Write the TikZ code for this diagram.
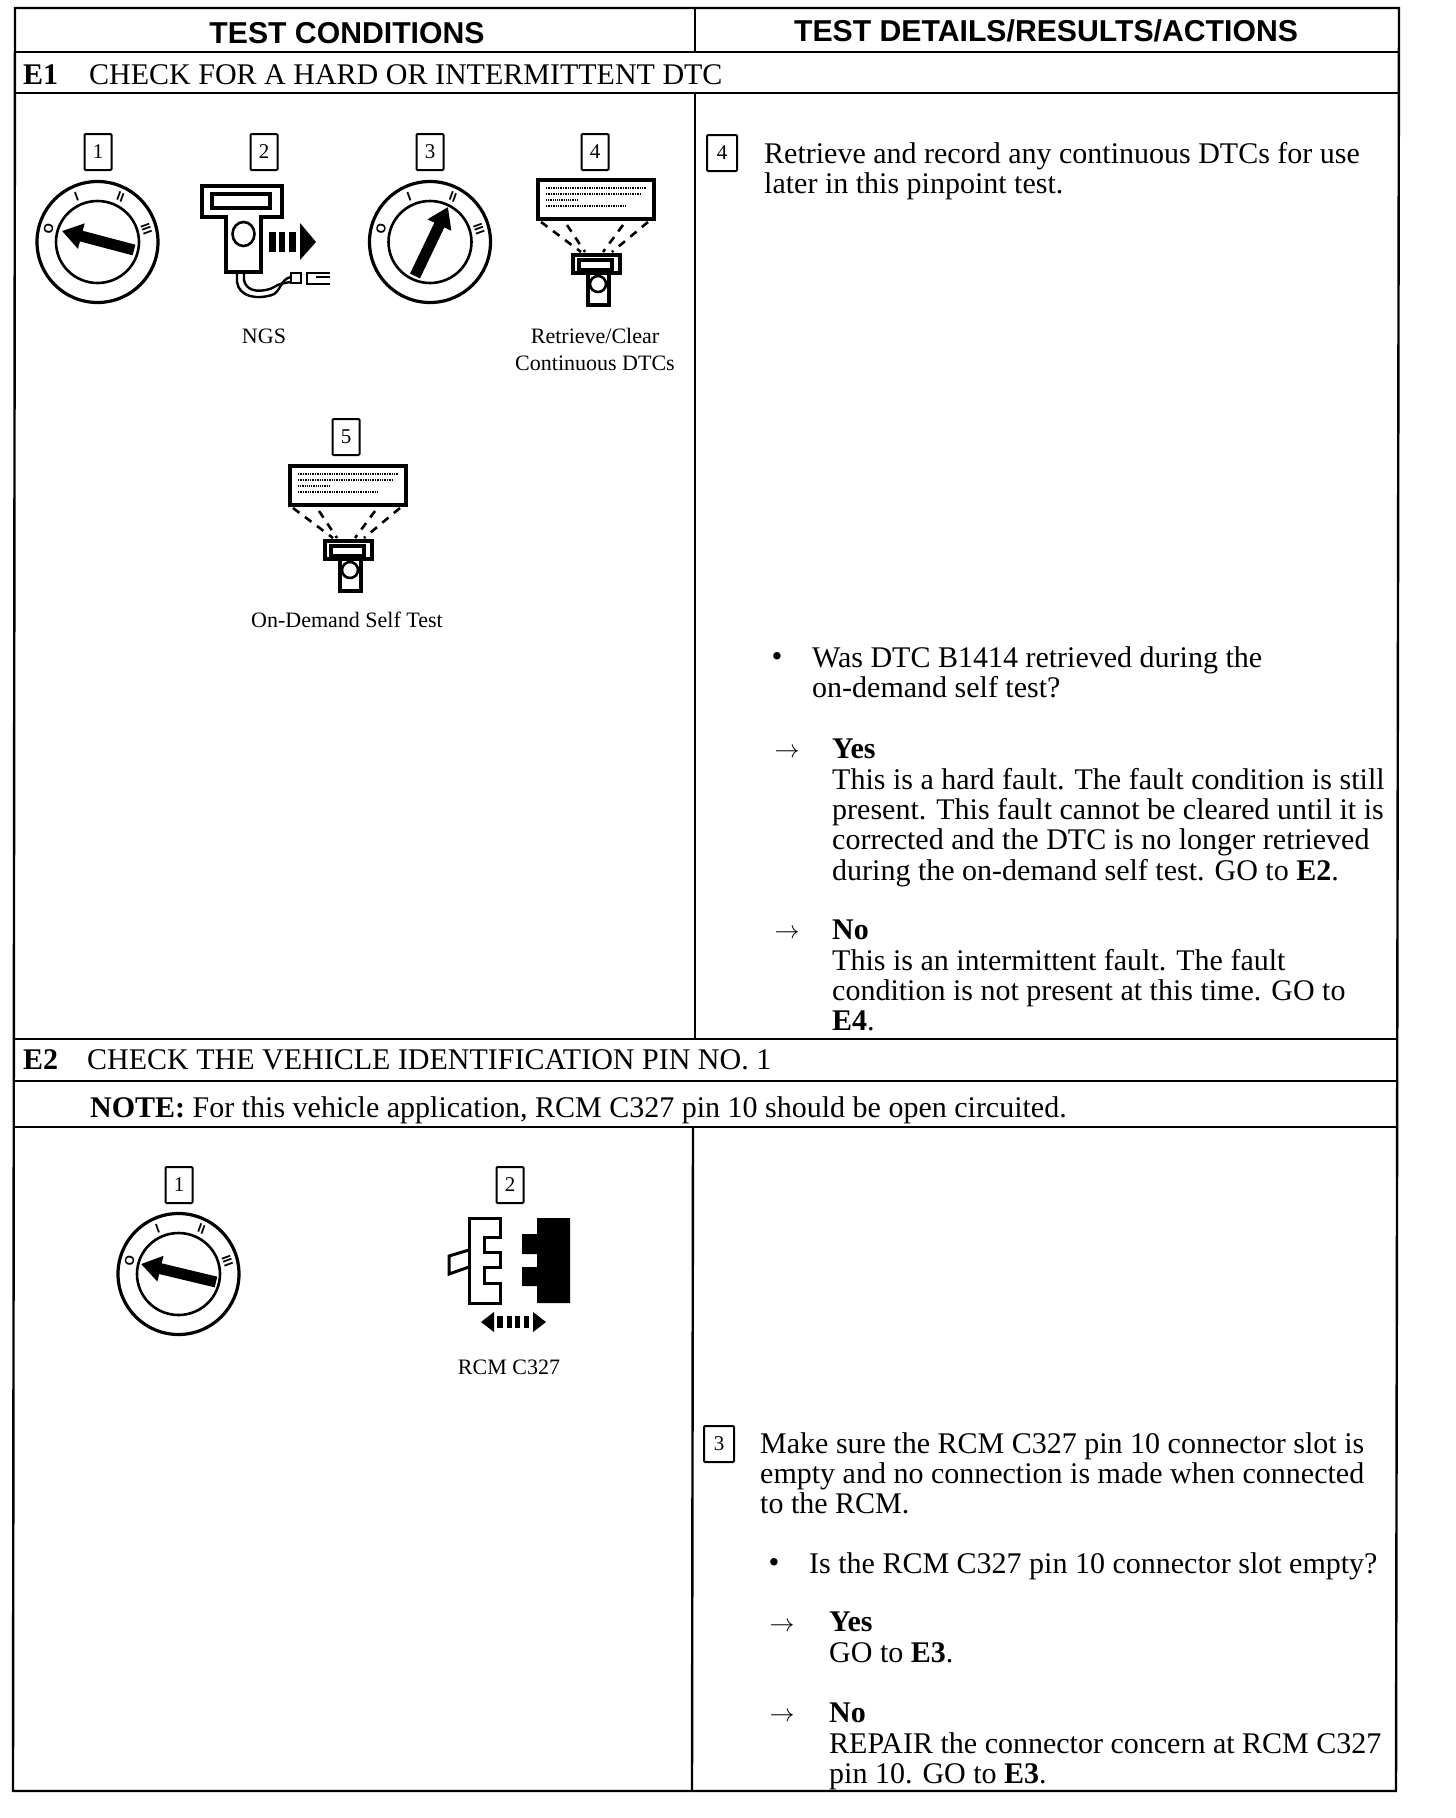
\documentclass[tikz,border=0pt]{standalone}
\usepackage{fontspec}
\setmainfont{Liberation Serif}
\newfontfamily\headfont{Liberation Sans}
\usetikzlibrary{arrows.meta,positioning,calc}

\tikzset{
    rulerline/.style={line width=2.4pt, black},
    numbox/.style={draw, line width=2pt, rounded corners=1pt, minimum width=27pt, minimum height=36pt, inner sep=0pt, font=\fontsize{21}{22}\selectfont},
    bodytext/.style={anchor=north west, align=left, inner sep=0pt, yshift=-2pt, font=\fontsize{30}{30.3}\selectfont},
    headtext/.style={inner sep=0pt, font=\headfont\bfseries\fontsize{30.2}{32}\selectfont},
    captext/.style={inner sep=0pt, align=center, font=\fontsize{22}{27}\selectfont},
    marktext/.style={inner sep=0pt, font=\fontsize{31}{31}\selectfont},
    keyarr/.style={line width=11pt, -{Triangle[length=20pt,width=25pt]}},
    dialpos/.style={inner sep=0pt, font=\headfont\bfseries\fontsize{13}{13}\selectfont},
    dial/.pic={
        \draw[line width=3.2pt] (0,0) circle[radius=60.5];
        \draw[line width=2.6pt] (0,0) circle[x radius=41.5, y radius=41];
        \node[dialpos, rotate=80] (-off) at (-49,-13) {O};
        \node[dialpos, rotate=20] (-acc) at (-21,-45) {I};
        \node[dialpos, rotate=-20] (-run) at (23,-45) {II};
        \node[dialpos, rotate=-70] (-st) at (49,-13) {III};
    },
    tool/.pic={
        \draw[line width=3.2pt] (0,0) rectangle (116,39);
        \draw[line width=1.4pt, densely dotted] (8,8) -- (108,8);
        \draw[line width=1.4pt, densely dotted] (8,14) -- (104,14);
        \draw[line width=1.2pt, densely dotted] (8,20) -- (40,20);
        \draw[line width=1.4pt, densely dotted] (8,26) -- (88,26);
        \draw[line width=2.6pt, dash pattern=on 8pt off 7pt] (3,42) -- (43,72);
        \draw[line width=2.6pt, dash pattern=on 8pt off 7pt] (29,45) -- (47,72);
        \draw[line width=2.6pt, dash pattern=on 8pt off 7pt] (85,45) -- (65,72);
        \draw[line width=2.6pt, dash pattern=on 8pt off 7pt] (110,42) -- (74,72);
        \draw[line width=3.2pt] (35,75) rectangle (82,93);
        \draw[line width=3.2pt, fill=white] (41,80) rectangle (74,90);
        \draw[line width=3.2pt] (50,93) rectangle (71,125);
        \draw[line width=2.6pt] (60,104) circle[radius=8];
    }
}

\begin{document}
\begin{tikzpicture}[x=1pt, y=-1pt]
\useasboundingbox (0,0) rectangle (1456,1818);

\coordinate (tl) at (15,8);
\coordinate (tr) at (1399,8);
\coordinate (bl) at (13,1791);
\coordinate (br) at (1396,1791);
\draw[rulerline] (tl) -- (tr) -- (br) -- (bl) -- cycle;
\draw[rulerline] (695,8) -- (695,52);
\draw[rulerline] (15,52) -- (1399,52);
\draw[rulerline] (15,93) -- (1399,93);
\draw[rulerline] (695,93) -- (695,1039);
\draw[rulerline] (14,1039) -- (1398,1039);
\draw[rulerline] (14,1081) -- (1398,1081);
\draw[rulerline] (14,1127) -- (1397,1127);
\draw[rulerline] (693,1127) -- (692,1791);

\node[headtext] (hleft) at (347,33) {TEST CONDITIONS};
\node[headtext] (hright) at (1046,31) {TEST DETAILS/RESULTS/ACTIONS};

\node[bodytext] (e1) at (23,62) {\textbf{E1}};
\node[bodytext] (e1title) at (89,62) {CHECK FOR A HARD OR INTERMITTENT DTC};

\node[numbox] (n1) at (98,152) {1};
\node[numbox] (n2) at (264,152) {2};
\node[numbox] (n3) at (430,152) {3};
\node[numbox] (n4) at (595,152) {4};
\node[numbox] (n5) at (346,437) {5};

\pic (dialone) at (97.5,242) {dial};
\coordinate (aone) at (134,250);
\coordinate (bone) at (62,231);
\draw[keyarr] (aone) -- (bone);

\pic (dialthree) at (430,242) {dial};
\coordinate (athree) at (415,276);
\coordinate (bthree) at (448,207);
\draw[keyarr] (athree) -- (bthree);

\draw[line width=3.2pt] (202,186) -- (282,186) -- (282,217) -- (261,217) -- (261,272) -- (226,272) -- (226,217) -- (202,217) -- cycle;
\draw[line width=3.2pt] (212,194) rectangle (270,208);
\draw[line width=2.6pt] (243.5,234) circle[x radius=11, y radius=12];
\fill (269,232) rectangle (276,252);
\fill (279,232) rectangle (285,252);
\fill (289,232) rectangle (296,252);
\fill (300,223) -- (316,242) -- (300,260) -- cycle;
\draw[line width=2.4pt] (237,272) -- (237,282) .. controls (239,296) and (255,300) .. (272,295) .. controls (281,292) and (280,279) .. (291,277);
\draw[line width=2.4pt] (244,272) -- (244,280) .. controls (246,290) and (256,293) .. (270,289) .. controls (277,286) and (276,284) .. (291,282);
\draw[line width=2.6pt] (291,273) rectangle (301,283);
\draw[line width=2.6pt] (330,273) -- (307,273) -- (307,284) -- (330,284);
\draw[line width=2.6pt] (330,277) -- (316,277);
\node[captext] (ngs) at (264,336) {NGS};

\pic (toolfour) at (538,180) {tool};
\node[captext] (retrieve) at (595,349) {Retrieve/Clear\\Continuous DTCs};

\pic (toolfive) at (290,466) {tool};
\node[captext] (ondemand) at (347,620) {On-Demand Self Test};

\node[numbox, minimum width=30pt] (m4) at (722,153) {4};
\node[bodytext] (stepfour) at (764,140) {Retrieve and record any continuous DTCs for use\\later in this pinpoint test.};
\node[marktext] (bfour) at (777,660) {•};
\node[bodytext] (askfour) at (812,644) {Was DTC B1414 retrieved during the\\on-demand self test?};
\node[marktext] (ayes) at (787,753) {$\rightarrow$};
\node[bodytext] (yesfour) at (832,737) {\textbf{Yes}\\This is a hard fault. The fault condition is still\\present. This fault cannot be cleared until it is\\corrected and the DTC is no longer retrieved\\during the on-demand self test. GO to \textbf{E2}.};
\node[marktext] (ano) at (787,934) {$\rightarrow$};
\node[bodytext] (nofour) at (832,918) {\textbf{No}\\This is an intermittent fault. The fault\\condition is not present at this time. GO to\\\textbf{E4}.};

\node[bodytext] (e2) at (23,1047) {\textbf{E2}};
\node[bodytext] (e2title) at (87,1047) {CHECK THE VEHICLE IDENTIFICATION PIN NO. 1};
\node[bodytext] (note) at (90,1094) {\textbf{NOTE:} For this vehicle application, RCM C327 pin 10 should be open circuited.};

\node[numbox] (p1) at (179,1185) {1};
\node[numbox] (p2) at (510,1185) {2};
\pic (dialtwo) at (178.5,1274) {dial};
\coordinate (atwo) at (216,1282);
\coordinate (btwo) at (141,1264);
\draw[keyarr] (atwo) -- (btwo);

\draw[line width=3pt] (469,1218) -- (500,1218) -- (500,1237) -- (484,1237) -- (484,1252) -- (500,1252) -- (500,1267) -- (484,1267) -- (484,1283) -- (500,1283) -- (500,1303) -- (469,1303) -- cycle;
\draw[line width=3pt] (469,1250) -- (449,1256) -- (449,1274) -- (469,1267);
\fill (537,1218) -- (570,1218) -- (570,1303) -- (537,1303) -- (537,1286) -- (522,1286) -- (522,1267) -- (537,1267) -- (537,1254) -- (522,1254) -- (522,1234) -- (537,1234) -- cycle;
\fill (494,1312) -- (481,1322) -- (494,1332) -- cycle;
\fill (497,1316) rectangle (503,1328);
\fill (507,1316) rectangle (512,1328);
\fill (515,1316) rectangle (520,1328);
\fill (524,1316) rectangle (529,1328);
\fill (533,1312) -- (546,1322) -- (533,1332) -- cycle;
\node[captext] (rcm) at (509,1367) {RCM C327};

\node[numbox, minimum width=30pt] (q3) at (719,1444) {3};
\node[bodytext] (stepthree) at (760,1430) {Make sure the RCM C327 pin 10 connector slot is\\empty and no connection is made when connected\\to the RCM.};
\node[marktext] (bthreedot) at (774,1566) {•};
\node[bodytext] (askthree) at (809,1550) {Is the RCM C327 pin 10 connector slot empty?};
\node[marktext] (cyes) at (782,1627) {$\rightarrow$};
\node[bodytext] (yesthree) at (829,1610) {\textbf{Yes}\\GO to \textbf{E3}.};
\node[marktext] (cno) at (782,1717) {$\rightarrow$};
\node[bodytext] (nothree) at (829,1701) {\textbf{No}\\REPAIR the connector concern at RCM C327\\pin 10. GO to \textbf{E3}.};
\end{tikzpicture}
\end{document}
